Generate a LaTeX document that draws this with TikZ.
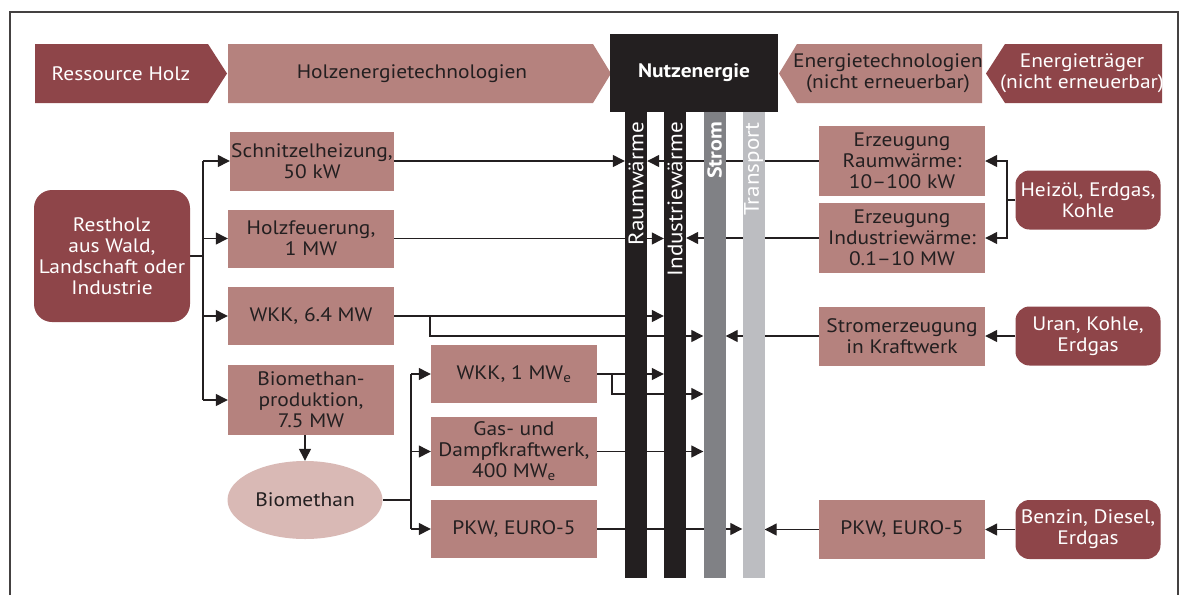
\documentclass[tikz,border=0pt]{standalone}
\usepackage{fontspec}
\setmainfont{PT Sans}[FakeStretch=1.1]
\usetikzlibrary{arrows.meta,shapes.geometric,backgrounds}

\definecolor{holzdunkel}{HTML}{8E4549}
\definecolor{holzhell}{HTML}{B5827E}
\definecolor{gasrosa}{HTML}{D9B9B5}
\definecolor{schrift}{HTML}{231F20}
\definecolor{stromgrau}{HTML}{808185}
\definecolor{transgrau}{HTML}{BCBDC1}

\begin{document}
\begin{tikzpicture}[x=1pt,y=-1pt,font=\fontsize{19.5}{21}\selectfont]

\tikzset{holzbox/.style = {fill=holzhell,text=schrift,align=center,inner sep=0pt,minimum width=166pt,minimum height=58pt}}
\tikzset{traeger/.style = {fill=holzdunkel,text=white,align=center,rounded corners=14pt,inner sep=0pt,minimum width=145pt,minimum height=59pt}}
\tikzset{balken/.style = {inner sep=0pt,minimum width=22pt,minimum height=466pt}}
\tikzset{balkentext/.style = {rotate=90,anchor=east,text=white,inner sep=0pt,font=\fontsize{21}{21}\selectfont}}
\tikzset{kopftext/.style = {align=center,inner sep=0pt}}
\tikzset{linie/.style = {line width=1.3pt,draw=schrift}}
\tikzset{pfeil/.style = {-{Triangle[length=12pt,width=12pt]},line width=1.3pt,draw=schrift}}

\useasboundingbox (0,0) rectangle (1186,595);
% frame
\draw[line width=1.3pt,draw=schrift!85] (10,595) -- (10,12) -- (1178,12) -- (1178,595);

% header
\fill[holzdunkel] (35,44) -- (208,44) -- (227,73.5) -- (208,103) -- (35,103) -- cycle;
\fill[holzhell] (228,44) -- (593,44) -- (611,73.5) -- (593,103) -- (228,103) -- cycle;
\fill[holzhell] (779,73.5) -- (797,44) -- (982,44) -- (982,103) -- (797,103) -- cycle;
\fill[holzdunkel] (986,73.5) -- (1005,44) -- (1162,44) -- (1162,103) -- (1005,103) -- cycle;
\node[kopftext,text=white] (ressource) at (121,73.5) {Ressource Holz};
\node[kopftext,text=schrift] (holztech) at (412,73.5) {Holzenergietechnologien};
\node[kopftext,text=schrift] (fossiltech) at (888,73.5) {Energietechnologien\\(nicht erneuerbar)};
\node[kopftext,text=white] (fossiltraeger) at (1082,73.5) {Energieträger\\(nicht erneuerbar)};
\node[fill=schrift,text=white,font=\fontsize{19.5}{21}\selectfont\bfseries,inner sep=0pt,minimum width=168pt,minimum height=78pt] (nutz) at (694,73) {Nutzenergie};

% bars
\node[balken,fill=schrift] (raum) at (636,345) {};
\node[balken,fill=schrift] (industrie) at (675,345) {};
\node[balken,fill=stromgrau] (strom) at (714.5,345) {};
\node[balken,fill=transgrau] (transport) at (753.5,345) {};
\node[balkentext] (raumtext) at (636,122) {Raumwärme};
\node[balkentext] (industrietext) at (675,122) {Industriewärme};
\node[balkentext,font=\fontsize{20}{21}\selectfont\bfseries] (stromtext) at (714.5,122) {Strom};
\node[balkentext] (transporttext) at (753.5,122) {Transport};

% wood side
\node[traeger,minimum width=156pt,minimum height=132pt,rounded corners=18pt] (restholz) at (112,256) {Restholz\\aus Wald,\\Landschaft oder\\Industrie};
\node[holzbox,minimum width=164pt,minimum height=59pt] (schnitzel) at (312,161) {Schnitzelheizung,\\50 kW};
\node[holzbox] (holzfeuerung) at (311,238.5) {Holzfeuerung,\\1 MW};
\node[holzbox] (wkkgross) at (311,316) {WKK, 6.4 MW};
\node[holzbox,minimum height=70pt] (produktion) at (311,400) {Biomethan-\\produktion,\\7.5 MW};
\node[ellipse,fill=gasrosa,text=schrift,inner sep=0pt,minimum width=155pt,minimum height=78pt] (biomethan) at (305,500) {Biomethan};
\node[holzbox] (wkkklein) at (514,374) {WKK, 1 MW\textsubscript{e}};
\node[holzbox,minimum height=69pt] (gud) at (514,451.5) {Gas- und\\Dampfkraftwerk,\\400 MW\textsubscript{e}};
\node[holzbox] (pkwbio) at (514,529) {PKW, EURO-5};

% fossil side
\node[holzbox,minimum height=70pt] (raumfossil) at (902,161) {Erzeugung\\Raumwärme:\\10--100 kW};
\node[holzbox,minimum height=70pt] (industriefossil) at (902,238) {Erzeugung\\Industriewärme:\\0.1--10 MW};
\node[holzbox,minimum height=59pt] (kraftwerk) at (902,336) {Stromerzeugung\\in Kraftwerk};
\node[holzbox,minimum height=59pt] (pkwfossil) at (902,529.5) {PKW, EURO-5};
\node[traeger] (heizoel) at (1088,200) {Heizöl, Erdgas,\\Kohle};
\node[traeger] (uran) at (1088,336) {Uran, Kohle,\\Erdgas};
\node[traeger] (benzin) at (1088,529.5) {Benzin, Diesel,\\Erdgas};

\coordinate (holzgabel) at (203,256);
\coordinate (gasgabel) at (411,500);
\coordinate (wkkabzweig) at (430,336);
\coordinate (wkkkleinabzweig) at (612,394);
\coordinate (oelgabel) at (1007,200);

% edges
\begin{pgfonlayer}{background}
\draw[linie] (restholz.east) -- (holzgabel);
\draw[linie] (holzgabel |- schnitzel) -- (holzgabel |- produktion);
\draw[pfeil] (holzgabel |- schnitzel) -- (schnitzel.west);
\draw[pfeil] (holzgabel |- holzfeuerung) -- (holzfeuerung.west);
\draw[pfeil] (holzgabel |- wkkgross) -- (wkkgross.west);
\draw[pfeil] (holzgabel |- produktion) -- (produktion.west);
\draw[pfeil] (produktion.south -| biomethan.north) -- (biomethan.north);

\draw[linie] (biomethan.east) -- (gasgabel);
\draw[linie] (gasgabel |- wkkklein) -- (gasgabel |- pkwbio);
\draw[pfeil] (gasgabel |- wkkklein) -- (wkkklein.west);
\draw[pfeil] (gasgabel |- gud) -- (gud.west);
\draw[pfeil] (gasgabel |- pkwbio) -- (pkwbio.west);

\draw[pfeil] (schnitzel.east) -- (schnitzel.east -| raum.west);
\draw[pfeil] (holzfeuerung.east) -- (holzfeuerung.east -| industrie.west);
\draw[pfeil] (wkkgross.east) -- (wkkgross.east -| industrie.west);
\draw[pfeil] (wkkgross.east -| wkkabzweig) -- (wkkabzweig) -- (wkkabzweig -| strom.west);
\draw[pfeil] (wkkklein.east) -- (wkkklein.east -| industrie.west);
\draw[pfeil] (wkkklein.east -| wkkkleinabzweig) -- (wkkkleinabzweig) -- (wkkkleinabzweig -| strom.west);
\draw[pfeil] (gud.east) -- (gud.east -| strom.west);
\draw[pfeil] (pkwbio.east) -- (pkwbio.east -| transport.west);

\draw[pfeil] (raumfossil.west) -- (raumfossil.west -| raum.east);
\draw[pfeil] (industriefossil.west) -- (industriefossil.west -| industrie.east);
\draw[pfeil] (kraftwerk.west) -- (kraftwerk.west -| strom.east);
\draw[pfeil] (pkwfossil.west) -- (pkwfossil.west -| transport.east);

\draw[linie] (heizoel.west) -- (oelgabel);
\draw[pfeil] (oelgabel) -- (oelgabel |- raumfossil) -- (raumfossil.east);
\draw[pfeil] (oelgabel) -- (oelgabel |- industriefossil) -- (industriefossil.east);
\draw[pfeil] (uran.west) -- (kraftwerk.east);
\draw[pfeil] (benzin.west) -- (pkwfossil.east);
\end{pgfonlayer}

\end{tikzpicture}
\end{document}
